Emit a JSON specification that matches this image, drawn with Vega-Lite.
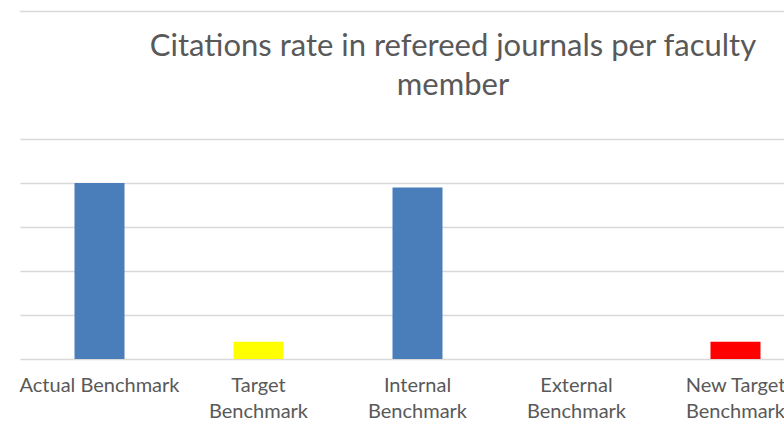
{
  "$schema": "https://vega.github.io/schema/vega-lite/v6.json",
  "autosize": "none",
  "width": 764,
  "height": 220,
  "padding": {"left": 20, "top": 139, "right": 0, "bottom": 74},
  "background": "white",
  "title": {
    "text": ["Citations rate in refereed journals per faculty", "member"],
    "font": "Lato",
    "fontSize": 31,
    "fontWeight": "normal",
    "color": "#595959",
    "anchor": "middle",
    "dx": 51,
    "offset": -91,
    "lineHeight": 39
  },
  "data": {
    "values": [
      {"category": "Actual Benchmark", "value": 4.0, "color": "#4A7EBB"},
      {"category": "Target Benchmark", "value": 0.39, "color": "#FFFF00"},
      {"category": "Internal Benchmark", "value": 3.9, "color": "#4A7EBB"},
      {"category": "External Benchmark", "value": 0, "color": "#4A7EBB"},
      {"category": "New Target Benchmark", "value": 0.39, "color": "#FF0000"}
    ]
  },
  "layer": [
    {
      "mark": {"type": "rule", "color": "#D9D9D9", "strokeWidth": 1.5, "clip": false},
      "data": {"values": [{"border": 7.9}]},
      "encoding": {"y": {"field": "border", "type": "quantitative"}}
    },
    {
      "mark": {"type": "bar"},
      "encoding": {
        "x": {
          "field": "category",
          "type": "nominal",
          "sort": null,
          "scale": {"range": [0, 795], "paddingInner": 0.6855, "paddingOuter": 0.3428},
          "axis": {
            "title": null,
            "domain": false,
            "ticks": false,
            "labelAngle": 0,
            "labelFont": "Lato",
            "labelFontSize": 20,
            "labelColor": "#595959",
            "labelPadding": 16,
            "labelLineHeight": 26,
            "labelExpr": "datum.value == 'Actual Benchmark' ? datum.value : split(replace(datum.value, ' Benchmark', '|Benchmark'), '|')"
          }
        },
        "y": {
          "field": "value",
          "type": "quantitative",
          "scale": {"domain": [0, 5]},
          "axis": {
            "title": null,
            "labels": false,
            "ticks": false,
            "domain": false,
            "tickCount": 5,
            "gridColor": "#D9D9D9",
            "gridWidth": 1.5
          }
        },
        "color": {"field": "color", "type": "nominal", "scale": null}
      }
    }
  ],
  "config": {"view": {"stroke": null}}
}
